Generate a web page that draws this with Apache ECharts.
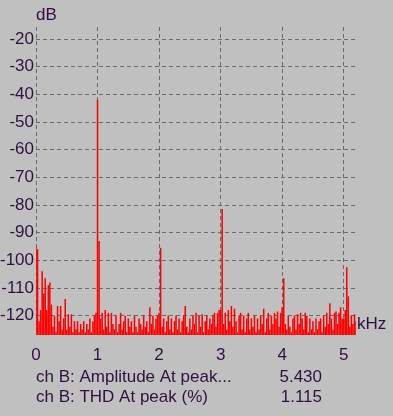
<!DOCTYPE html>
<html>
<head>
<meta charset="utf-8">
<script src="https://cdn.jsdelivr.net/npm/echarts@6/dist/echarts.min.js"></script>
<style>
html,body{margin:0;padding:0;background:#c0c0c0;}
#c{width:393px;height:416px;}
</style>
</head>
<body>
<div id="c"></div>
<script>
// Spectrum bin width in kHz
const binKHz = 0.025;
// Level per bin (dB)
const levelsDb = [
  -95, -96, -122, -118, -104, -112, -106.5, -118, -109, -108,
  -116, -124, -120, -126, -116.5, -122, -116.5, -125, -121, -114,
  -125, -119.5, -124, -119.5, -126, -122, -125, -122, -126, -123,
  -125, -122, -126, -123, -125, -121, -126, -122, -120, -119,
  -42, -93, -121, -119, -125, -118, -124, -119, -126, -119,
  -123, -125, -120, -126, -123, -119, -125, -122, -120, -126,
  -121, -124, -122, -126, -120, -124, -126, -121, -123, -125,
  -120, -124, -122, -126, -117, -123, -120, -125, -121, -120,
  -119, -95.5, -124, -121, -126, -122, -120, -125, -121, -126,
  -122, -120, -125, -121, -126, -122, -120, -116.5, -124, -126,
  -121, -125, -120, -123, -119, -126, -120, -124, -119.5, -126,
  -122, -120, -125, -121, -123, -120, -119, -124, -119, -118,
  -118, -81.5, -123, -119, -125, -118, -122, -116.5, -124, -117.5,
  -122, -126, -120, -119, -125, -120, -126, -121, -119, -125,
  -121, -124, -120, -126, -121, -125, -120, -123, -117.5, -126,
  -121, -119, -125, -120, -123, -119, -121, -118.5, -124, -119,
  -117, -106.5, -123, -125, -120, -124, -126, -121, -120, -125,
  -119.5, -123, -119, -121, -125, -119, -120, -126, -121, -125,
  -122, -126, -121, -125, -122, -121, -126, -120, -124, -119,
  -123, -115.5, -121, -125, -119, -118.5, -123, -119, -117, -121,
  -121, -118, -102.5, -113, -124, -120, -123, -119.5, -122
];
const yTicks = [-120, -110, -100, -90, -80, -70, -60, -50, -40, -30, -20];
const xTicks = [0, 1, 2, 3, 4, 5];
const readoutLabels = ['ch B: Amplitude At peak...', 'ch B: THD At peak (%)'];
const readoutValues = ['5.430', '1.115'];

const yMin = -127, yMax = -15.7;
const txt = '#301040';
const font = 'Liberation Sans, Arial, sans-serif';
const points = levelsDb.map((v, i) => [i * binKHz, v]);

const chart = echarts.init(document.getElementById('c'), null, {renderer: 'canvas'});
const gfx = [
  {type: 'text', x: 36, y: 15, style: {text: 'dB', fill: txt, font: '17px ' + font, verticalAlign: 'middle'}},
  {type: 'text', x: 357, y: 324, style: {text: 'kHz', fill: txt, font: '17px ' + font, verticalAlign: 'middle'}}
];
readoutLabels.forEach((l, i) => {
  gfx.push({type: 'text', x: 36, y: 377 + i * 20, style: {text: l, fill: txt, font: '17px ' + font, verticalAlign: 'middle'}});
  gfx.push({type: 'text', x: 322, y: 377 + i * 20, style: {text: readoutValues[i], fill: txt, font: '17px ' + font, align: 'right', verticalAlign: 'middle'}});
});

chart.setOption({
  backgroundColor: '#c0c0c0',
  animation: false,
  grid: {left: 36, top: 27, right: 37, bottom: 81, containLabel: false, outerBoundsMode: 'none'},
  xAxis: {
    type: 'value', min: 0, max: 5.2, interval: 1,
    axisLine: {show: false}, axisTick: {show: false, customValues: xTicks},
    axisLabel: {customValues: xTicks, color: txt, fontSize: 17, fontFamily: font, margin: 12,
      formatter: v => String(Math.round(v))},
    splitLine: {show: true, lineStyle: {color: '#6a6a6a', type: [4, 3], width: 1}}
  },
  yAxis: {
    type: 'value', min: yMin, max: yMax,
    axisLine: {show: false}, axisTick: {show: false, customValues: yTicks},
    axisLabel: {customValues: yTicks, color: txt, fontSize: 17, fontFamily: font, margin: 2},
    splitLine: {show: true, lineStyle: {color: '#6a6a6a', type: [4, 3], width: 1}}
  },
  series: [{
    type: 'custom', data: points, clip: true, silent: true, z: 1,
    renderItem: function (params, api) {
      const x = api.value(0), v = api.value(1);
      const pTop = api.coord([x - binKHz * 0.5, v]);
      const pBot = api.coord([x + binKHz * 0.5, yMin]);
      const shape = echarts.graphic.clipRectByRect({
        x: pTop[0], y: pTop[1], width: pBot[0] - pTop[0], height: pBot[1] - pTop[1]
      }, {x: params.coordSys.x, y: params.coordSys.y, width: params.coordSys.width, height: params.coordSys.height});
      return shape && {type: 'rect', shape: shape, style: {fill: '#ff0000'}};
    }
  }],
  graphic: gfx
});
</script>
</body>
</html>
